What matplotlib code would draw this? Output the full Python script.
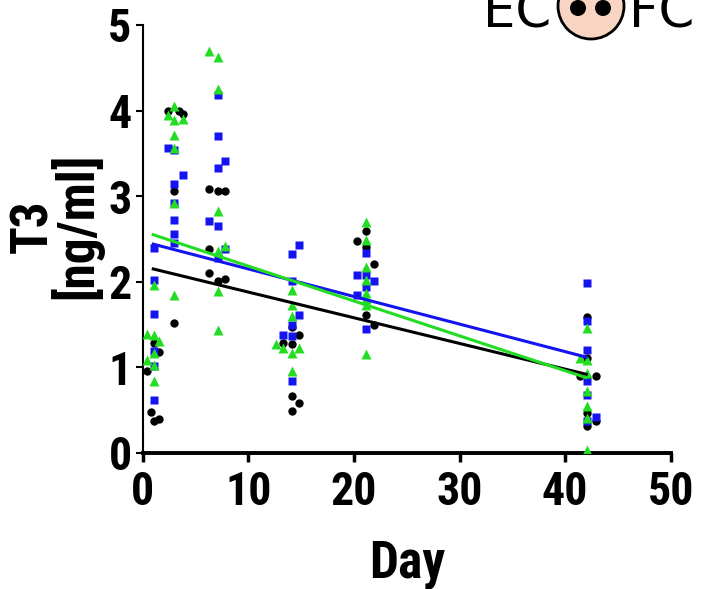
import matplotlib
matplotlib.use("Agg")
import matplotlib.pyplot as plt
from matplotlib.patches import Circle

plt.rcParams['font.family'] = ['Liberation Sans Narrow', 'Arial Narrow', 'Roboto Condensed',
                               'Archivo Narrow', 'DejaVu Sans']
plt.rcParams['font.weight'] = 'bold'

# T3 measurements per group (day, value)
black_days = [0.4, 1.05, 1.5, 0.8, 1.5, 1.05,
              2.4, 3.4, 3.8, 3.0, 3.0,
              6.3, 7.1, 7.8, 6.3, 6.3, 7.1, 7.8,
              14.1, 14.8, 13.3, 14.1, 14.1, 14.8, 14.1,
              21.1, 20.3, 21.1, 21.9, 21.1, 21.9,
              42.1, 42.1, 41.4, 42.9, 42.1, 42.9, 42.1]
black_vals = [0.96, 1.28, 1.18, 0.48, 0.40, 0.37,
              4.00, 4.00, 3.96, 3.06, 1.52,
              3.08, 3.06, 3.06, 2.38, 2.10, 2.01, 2.03,
              1.47, 1.38, 1.28, 1.27, 0.67, 0.58, 0.49,
              2.59, 2.48, 2.41, 2.21, 1.61, 1.50,
              1.59, 1.11, 0.90, 0.90, 0.47, 0.37, 0.32]

blue_days = [1.05, 1.05, 1.05, 1.05, 1.05, 1.05,
             2.4, 3.0, 3.8, 3.0, 3.0, 3.0, 3.0, 3.0,
             7.1, 7.1, 7.8, 7.1, 6.3, 7.1, 7.8, 7.1,
             14.8, 14.1, 14.1, 14.8, 14.1, 13.3, 14.1, 14.1,
             21.1, 20.3, 21.1, 21.9, 21.1, 20.3, 21.1,
             42.1, 42.1, 42.1, 42.1, 42.1, 42.9, 42.1]
blue_vals = [2.39, 2.02, 1.62, 1.19, 1.02, 0.62,
             3.56, 3.54, 3.25, 3.14, 2.92, 2.72, 2.56, 2.45,
             4.18, 3.70, 3.41, 3.33, 2.71, 2.65, 2.38, 2.28,
             2.43, 2.32, 2.01, 1.61, 1.50, 1.38, 1.37, 0.84,
             2.34, 2.08, 2.08, 2.01, 1.94, 1.85, 1.45,
             1.99, 1.54, 1.20, 0.84, 0.68, 0.42, 0.37]

green_days = [1.05, 0.4, 1.05, 1.5, 1.05, 0.4, 1.05, 1.05,
              3.0, 2.4, 3.0, 3.8, 3.0, 3.0, 3.0, 3.0,
              6.3, 7.1, 7.1, 7.1, 7.1, 7.8, 7.1, 7.1,
              14.1, 14.1, 14.1, 12.6, 13.3, 14.8, 14.1, 14.1,
              21.1, 21.1, 21.1, 21.1, 21.1, 21.1, 21.1, 21.1,
              42.1, 41.4, 42.1, 42.1, 42.1, 42.1, 42.1, 42.1]
green_vals = [1.96, 1.39, 1.38, 1.31, 1.17, 1.09, 1.03, 0.84,
              4.05, 3.95, 3.89, 3.90, 3.72, 3.56, 2.92, 1.85,
              4.70, 4.63, 4.25, 2.83, 2.36, 2.42, 1.89, 1.44,
              1.90, 1.73, 1.60, 1.27, 1.23, 1.23, 1.17, 0.96,
              2.70, 2.49, 2.17, 2.02, 1.87, 1.80, 1.73, 1.16,
              1.46, 1.11, 1.09, 0.93, 0.72, 0.55, 0.41, 0.03]

# regression lines, endpoints
fit_days = [1, 42]
fit_black = [2.15, 0.92]
fit_blue = [2.44, 1.12]
fit_green = [2.55, 0.88]

c_black = '#000000'
c_blue = '#1414F0'
c_green = '#22DD22'

fig = plt.figure(figsize=(7.03, 5.89), dpi=100)
ax = fig.add_axes([142.7 / 703, 1 - 453 / 589, 528 / 703, 428 / 589])

ax.plot(black_days, black_vals, 'o', color=c_black, ms=6, mec='none', zorder=3)
ax.plot(blue_days, blue_vals, 's', color=c_blue, ms=5.5, mec='none', zorder=3)
ax.plot(green_days, green_vals, '^', color=c_green, ms=6.5, mec='none', zorder=3)

ax.plot(fit_days, fit_black, color=c_black, lw=2.2, zorder=4)
ax.plot(fit_days, fit_blue, color=c_blue, lw=2.2, zorder=4)
ax.plot(fit_days, fit_green, color=c_green, lw=2.2, zorder=4)

ax.set_xlim(0, 50)
ax.set_ylim(0, 5)
ax.set_xticks([0, 10, 20, 30, 40, 50])
ax.set_yticks([0, 1, 2, 3, 4, 5])
ax.spines['top'].set_visible(False)
ax.spines['right'].set_visible(False)
ax.spines['left'].set_linewidth(1.5)
ax.spines['bottom'].set_linewidth(2.8)
ax.tick_params(axis='y', direction='out', length=5, width=1.5, pad=3, labelsize=33)
ax.tick_params(axis='x', direction='out', length=6.5, width=2.5, pad=6, labelsize=33)
for lab in ax.get_xticklabels() + ax.get_yticklabels():
    lab.set_fontweight('bold')

ax.set_xlabel('Day', fontsize=37, fontweight='bold', labelpad=18)
ax.set_ylabel('T3\n[ng/ml]', fontsize=37, fontweight='bold', linespacing=0.8)
ax.yaxis.set_label_coords(-0.074, 0.53)

# logo overlay in pixel coordinates
ov = fig.add_axes([0, 0, 1, 1], zorder=10)
ov.set_xlim(0, 703)
ov.set_ylim(589, 0)
ov.axis('off')
ov.patch.set_alpha(0)
ov.text(551, 27, 'EC', fontsize=37, fontweight='normal', family='DejaVu Sans',
        ha='right', va='baseline', color='black')
ov.text(629, 27, 'FC', fontsize=37, fontweight='normal', family='DejaVu Sans',
        ha='left', va='baseline', color='black')
ov.add_patch(Circle((591, 6), 33, facecolor='#F8D5C2', edgecolor='black', lw=2))
ov.add_patch(Circle((578, 8), 8, facecolor='black', edgecolor='none'))
ov.add_patch(Circle((603, 8), 8, facecolor='black', edgecolor='none'))

fig.savefig('out.png', dpi=100)
